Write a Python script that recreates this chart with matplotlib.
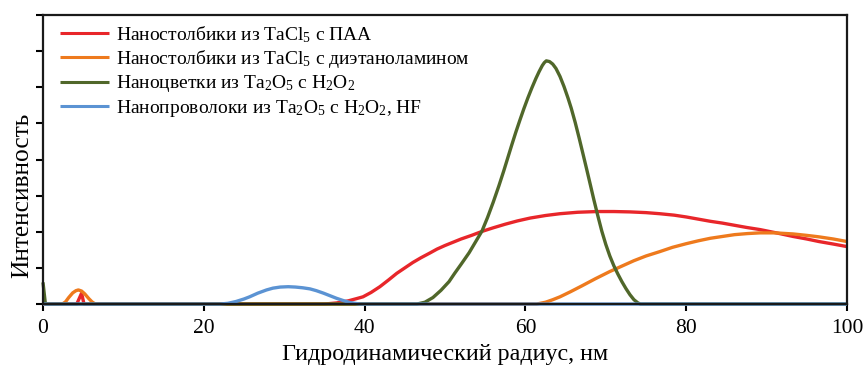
import matplotlib
matplotlib.use("Agg")
import matplotlib.pyplot as plt

plt.rcParams['font.family'] = ['Liberation Serif', 'DejaVu Serif']
plt.rcParams['mathtext.fontset'] = 'custom'
plt.rcParams['mathtext.rm'] = 'Liberation Serif'
plt.rcParams['mathtext.it'] = 'Liberation Serif'

# Data
red_x = [0, 4.2, 4.8, 5.1, 35, 36.5, 38, 39, 39.8, 40.8, 41.9, 43, 44, 45, 46, 47, 48.1, 49,
         50, 51, 52, 53.3, 54.6, 56, 57.5, 59, 60.6, 62.5, 64.3, 66.5, 68.9, 71, 73, 75, 76.7,
         78.5, 80, 81.5, 83, 84.5, 86, 87.5, 89.2, 91.2, 93.3, 95, 96.5, 98.3, 100]
red_y = [0, 0, 0.3, 0, 0, 0.03, 0.09, 0.15, 0.2, 0.32, 0.48, 0.67, 0.85, 1.0, 1.15, 1.28, 1.41,
         1.52, 1.62, 1.71, 1.8, 1.9, 2.01, 2.11, 2.21, 2.3, 2.38, 2.45, 2.5, 2.54, 2.56, 2.56,
         2.55, 2.53, 2.5, 2.46, 2.41, 2.35, 2.29, 2.24, 2.18, 2.12, 2.06, 1.97, 1.87, 1.8, 1.73,
         1.66, 1.59]

orange_x = [0, 2.4, 2.8, 3.2, 3.7, 4.1, 4.4, 4.8, 5.2, 5.7, 6.1, 6.5, 61.4, 62.5, 63.4, 64.3,
            65.6, 67, 68.7, 70.5, 72, 73.5, 75, 76.7, 78.3, 80, 81.5, 83, 84.5, 86, 87.6, 89.2,
            91, 93.3, 95, 96.5, 98.3, 100]
orange_y = [0, 0, 0.06, 0.18, 0.31, 0.37, 0.39, 0.36, 0.28, 0.15, 0.06, 0, 0, 0.05, 0.12, 0.2,
            0.34, 0.5, 0.7, 0.9, 1.05, 1.2, 1.33, 1.45, 1.57, 1.67, 1.75, 1.82, 1.87, 1.92, 1.95,
            1.97, 1.97, 1.94, 1.9, 1.86, 1.8, 1.73]

green_x = [0, 0.3, 46.5, 47.5, 48.5, 49.5, 50.5, 51.2, 52, 53, 53.8, 54.6, 55.3, 56, 56.7, 57.3,
           57.8, 58.3, 58.8, 59.3, 59.8, 60.3, 60.8, 61.3, 61.7, 62.1, 62.35, 62.6, 63.0, 63.4,
           63.8, 64.3, 64.8, 65.3, 65.7, 66.2, 66.7, 67.2, 67.6, 68.1, 68.5, 69.0, 69.5, 70.0,
           70.5, 71.0, 71.5, 72.0, 72.5, 73.0, 73.5, 74.0, 74.3, 100]
green_y = [0.6, 0, 0, 0.05, 0.18, 0.38, 0.62, 0.85, 1.1, 1.42, 1.72, 2.02, 2.4, 2.82, 3.27, 3.68,
           4.04, 4.4, 4.75, 5.08, 5.4, 5.7, 5.98, 6.24, 6.43, 6.6, 6.68, 6.73, 6.71, 6.64,
           6.52, 6.3, 6.02, 5.7, 5.42, 5.02, 4.58, 4.12, 3.75, 3.28, 2.9, 2.45, 2.02, 1.65,
           1.33, 1.06, 0.83, 0.62, 0.43, 0.26, 0.12, 0.03, 0, 0]

blue_x = [0, 22, 23, 24, 25, 25.7, 26.7, 27.8, 28.6, 29.5, 30.5, 31.4, 32.3, 33.2, 34, 34.9,
          35.7, 36.5, 37.3, 38.2, 39.4, 100]
blue_y = [0, 0, 0.02, 0.07, 0.14, 0.2, 0.3, 0.39, 0.44, 0.47, 0.48, 0.47, 0.45, 0.42, 0.37,
          0.3, 0.23, 0.16, 0.1, 0.04, 0, 0]

labels = [
    "Наностолбики из TaCl$_5$ с ПАА",
    "Наностолбики из TaCl$_5$ с диэтаноламином",
    "Наноцветки из Ta$_2$O$_5$ с H$_2$O$_2$",
    "Нанопроволоки из Ta$_2$O$_5$ с H$_2$O$_2$, HF",
]
colors = ['#e8262a', '#ee7a1d', '#50672a', '#5b93d3']

x_ticks = [0, 20, 40, 60, 80, 100]
y_ticks = [0, 1, 2, 3, 4, 5, 6, 7, 8]

fig = plt.figure(figsize=(8.65, 3.65), dpi=100)
ax = fig.add_axes([0.0497, 0.167, 0.9295, 0.792])

series = [(red_x, red_y), (orange_x, orange_y), (green_x, green_y), (blue_x, blue_y)]
for (xs, ys), lab, c in zip(series, labels, colors):
    ax.plot(xs, ys, color=c, lw=2.4, label=lab, clip_on=False,
            solid_joinstyle='round', solid_capstyle='butt')

ax.set_xlim(0, 100)
ax.set_ylim(0, 7.95)
ax.set_xticks(x_ticks)
ax.set_yticks(y_ticks)
ax.set_yticklabels([])
ax.tick_params(axis='both', direction='out', length=5, width=1.5, labelsize=15.5,
               colors='black', top=False, right=False)
ax.tick_params(axis='x', pad=6)
for s in ax.spines.values():
    s.set_linewidth(1.6)
    s.set_color('#1a1a1a')

ax.set_xlabel("Гидродинамический радиус, нм", fontsize=17.3, labelpad=4)
ax.set_ylabel("Интенсивность", fontsize=18.3)
ax.yaxis.set_label_coords(-0.012, 0.377)

leg = ax.legend(loc='upper left', frameon=False, fontsize=14, handlelength=2.5,
                handletextpad=0.35, labelspacing=0.17, borderaxespad=0.0,
                bbox_to_anchor=(0.012, 0.995))
for line in leg.get_lines():
    line.set_linewidth(2.2)

fig.savefig("out.png", dpi=100)
